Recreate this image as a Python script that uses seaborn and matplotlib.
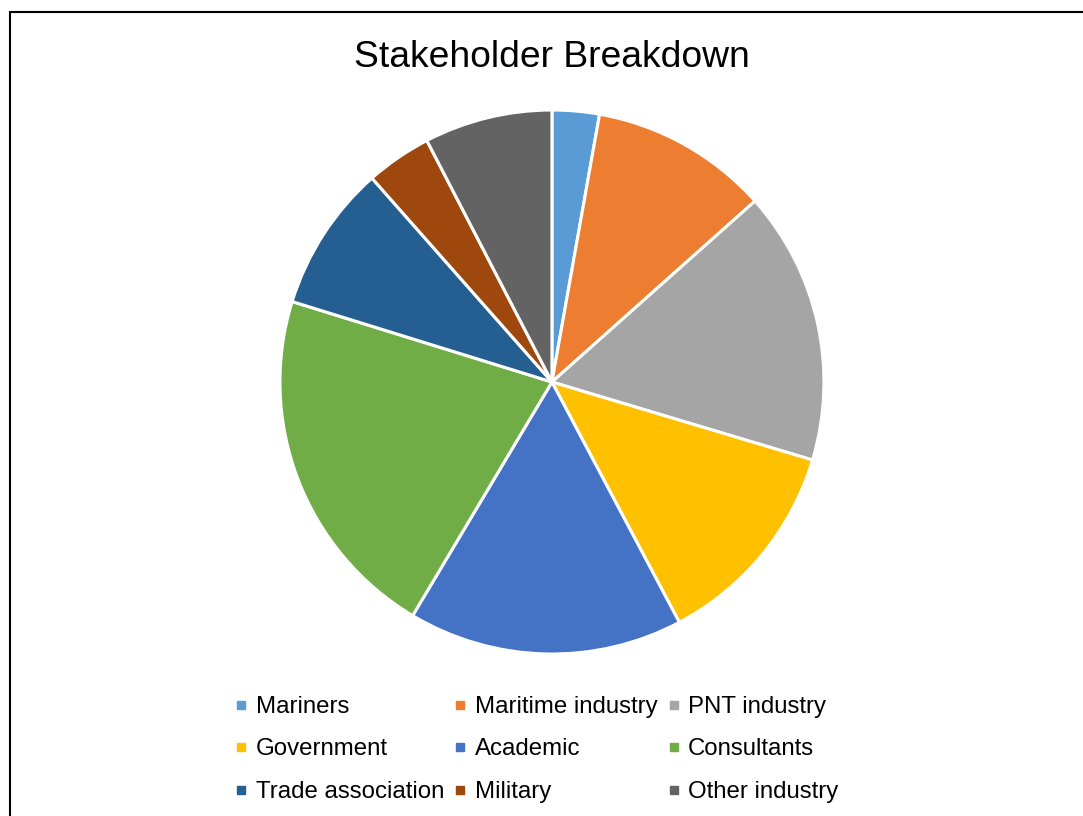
import matplotlib
matplotlib.use("Agg")
import matplotlib.pyplot as plt
from matplotlib.lines import Line2D
import seaborn as sns

# Stakeholder shares (percent)
categories = ["Mariners", "Maritime industry", "PNT industry", "Government",
              "Academic", "Consultants", "Trade association", "Military",
              "Other industry"]
shares = [2.8, 10.6, 16.2, 12.6, 16.3, 21.2, 8.7, 3.9, 7.6]
colors = ["#5B9BD5", "#ED7D31", "#A5A5A5", "#FFC000", "#4472C4",
          "#70AD47", "#255E91", "#9E480E", "#636363"]

sns.set_theme(style="white")
plt.rcParams["font.family"] = ["Liberation Sans", "DejaVu Sans"]
plt.rcParams["text.color"] = "black"

fig = plt.figure(figsize=(10.83, 8.16), dpi=100)
ax = fig.add_axes([0.2585, 0.1985, 0.5023, 0.6667])

ax.pie(shares, colors=colors, startangle=90, counterclock=False, radius=1,
       wedgeprops=dict(edgecolor="white", linewidth=2.2))
ax.set_xlim(-1, 1)
ax.set_ylim(-1, 1)
ax.axis("off")

fig.text(0.5097, 0.930, "Stakeholder Breakdown", ha="center", va="center",
         fontsize=26.8, color="black")

# legend: row-major order like the original
handles = [Line2D([], [], marker="s", linestyle="none", markersize=6,
                  markerfacecolor=c, markeredgecolor=c) for c in colors]
order = [0, 3, 6, 1, 4, 7, 2, 5, 8]
leg = fig.legend([handles[i] for i in order], [categories[i] for i in order],
                 ncol=3, loc="center", bbox_to_anchor=(0.4954, 0.0815),
                 frameon=False, fontsize=17.3, handlelength=0.55,
                 handletextpad=0.33, columnspacing=0.4, labelspacing=0.85)
for t in leg.get_texts():
    t.set_color("black")

# frame (top and left edges are what is visible in the original)
fig.add_artist(plt.Rectangle((10 / 1083, -0.1), 1.2, 0.1 + (816 - 12) / 816,
                             transform=fig.transFigure, fill=False,
                             edgecolor="black", linewidth=1.5))

fig.savefig("out.png", dpi=100, facecolor="white")
